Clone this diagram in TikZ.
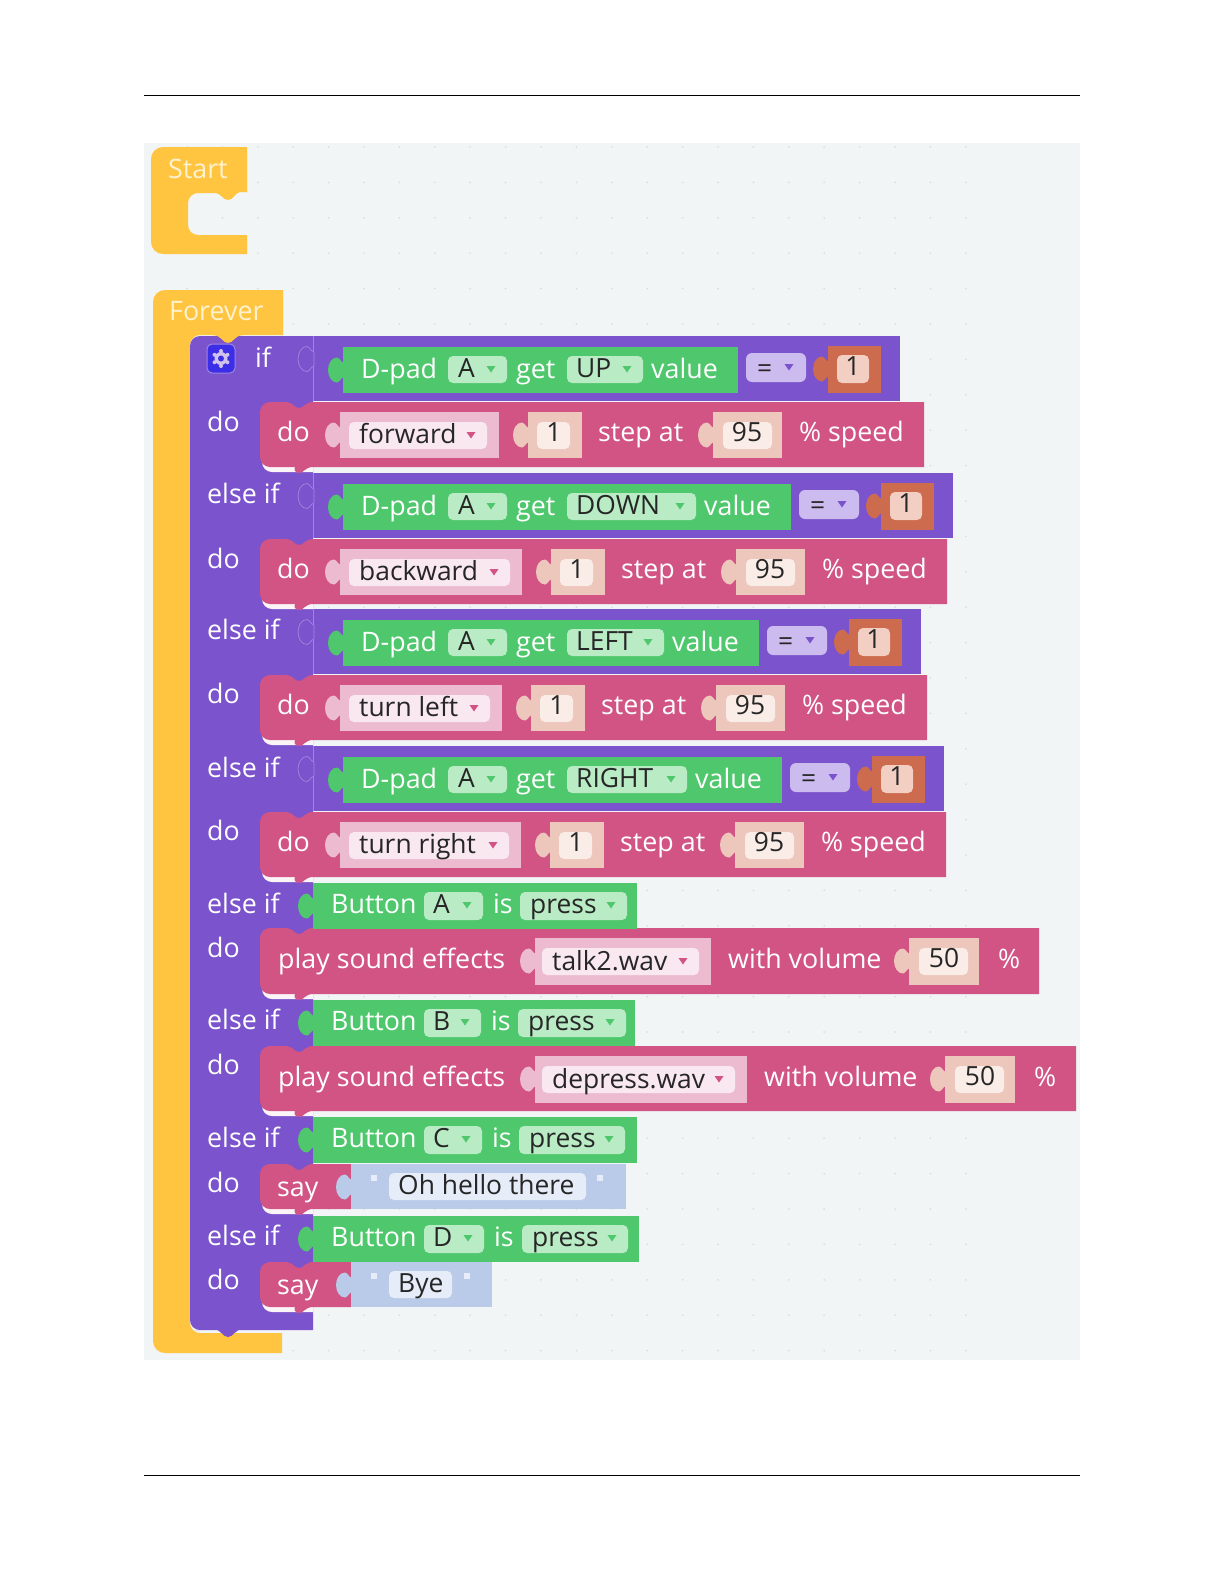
\documentclass[tikz,border=0pt]{standalone}
\usepackage{fontspec}
\setmainfont{Open Sans}
\usepackage{xcolor}
\usepackage{tikz}
\definecolor{canvasbg}{HTML}{F1F5F6}
\definecolor{griddot}{HTML}{D9DFE1}
\definecolor{startcol}{HTML}{FFC440}
\definecolor{startink}{HTML}{FFF2CF}
\definecolor{ifcol}{HTML}{7B53CC}
\definecolor{iflight}{HTML}{9E86DE}
\definecolor{movecol}{HTML}{D15484}
\definecolor{movepale}{HTML}{EDBBD0}
\definecolor{movefield}{HTML}{F9E8EF}
\definecolor{sensecol}{HTML}{4FC76D}
\definecolor{sensefield}{HTML}{B9EBC5}
\definecolor{numcol}{HTML}{EDC6BC}
\definecolor{numfield}{HTML}{FAECE6}
\definecolor{orangecol}{HTML}{CC6B4D}
\definecolor{orangefield}{HTML}{F3CFC3}
\definecolor{opfield}{HTML}{CBBBEE}
\definecolor{saycol}{HTML}{B9CBE8}
\definecolor{sayfield}{HTML}{E6ECF8}
\definecolor{gearcol}{HTML}{3B2EE6}
\begin{document}
\begin{tikzpicture}[
    x=1pt, y=-1pt,
    font=\fontsize{26.4}{30}\selectfont,
    lbl/.style={anchor=west, inner sep=0pt, text=white, text height=25pt, text depth=6pt,
                font=\fontsize{26.8}{30}\selectfont},
    startlbl/.style={lbl, text=startink},
    ink/.style={anchor=west, inner sep=0pt, text=black!85, text height=22pt, text depth=6pt},
    num/.style={ink, anchor=center, text height=19pt},
    tab/.pic={\path[pic actions] (1,-7) .. controls (-2,-7.5) and (-3,-12) .. (-6,-12.5)
      .. controls (-11,-12.5) and (-15,-7) .. (-15,0) .. controls (-15,7) and (-11,12.5) .. (-6,12.5)
      .. controls (-3,12) and (-2,7.5) .. (1,7) -- cycle;},
    tri/.pic={\fill[pic actions] (-4.5,-3) -- (4.5,-3) -- (0,3.5) -- cycle;}
  ]
    \useasboundingbox (0,0) rectangle (1224,1584);
    \fill[white] (0,0) rectangle (1224,1584);
    \draw[black, line width=0.8pt] (144,95) -- (1080,95);
    \draw[black, line width=0.8pt] (144,1475) -- (1080,1475);

    % canvas
    \fill[canvasbg] (144,143) rectangle (1080,1360);
    \foreach \gx in {0,...,22} \foreach \gy in {0,...,34}
      \fill[griddot] (187+35.4*\gx,147+35.4*\gy) circle (1);

    % hat blocks
    \fill[startcol] (247,147) {[rounded corners=12pt] -- (151,147) -- (151,254) -- (200,254)}
      -- (247,254) -- (247,235) {[rounded corners=10pt] -- (188,235) -- (188,193) -- (200,193)} -- (214,193)
      .. controls (222,193) and (222,200) .. (228,200) .. controls (234,200) and (234,192) .. (242,192)
      -- (247,192) -- cycle;
    \node[startlbl] (start) at (168,169) {Start};
    \fill[startcol] (283,290) {[rounded corners=12pt] -- (153,290) -- (153,1353) -- (200,1353)}
      -- (282,1353) -- (282,1333) {[rounded corners=10pt] -- (190,1333) -- (190,335) -- (200,335)} -- (283,335) -- cycle;
    \node[startlbl] (forever) at (169,311) {Forever};

    % the if column
    \fill[ifcol] (313,336) {[rounded corners=10pt] -- (190,336) -- (190,1330) -- (205,1330)} -- (313,1330) -- cycle;
    \fill[ifcol] (212,1329) .. controls (222,1329) and (222,1337) .. (228,1337)
      .. controls (234,1337) and (234,1329) .. (244,1329) -- cycle;
    \fill[startcol] (212,335) .. controls (222,335) and (222,343) .. (228,343)
      .. controls (234,343) and (234,335) .. (244,335) -- cycle;
    \draw[iflight, rounded corners=5pt, line width=1pt, fill=gearcol] (207,344) rectangle (235,373);
    \foreach \a in {30,90,...,330}
      \fill[iflight!50!white] (221,358.5) ++(\a:7.5) circle (2);
    \fill[iflight!50!white] (221,358.5) circle (6.5);
    \fill[gearcol] (221,358.5) circle (3);
    \node[lbl] (ifword) at (255,358) {if};

    \foreach \i/\y/\word in {1/422/do, 2/494/else if, 3/559/do, 4/630/else if, 5/694/do, 6/768/else if,
        7/831/do, 8/904/else if, 9/948/do, 10/1020/else if, 11/1065/do, 12/1138/else if,
        13/1183/do, 14/1236/else if, 15/1280/do}
      \node[lbl] (side\i) at (207,\y) {\word};

    % D-pad conditions
    \foreach \i/\T/\d/\key in {1/336/0/UP, 2/473/53/DOWN, 3/609/21/LEFT, 4/746/44/RIGHT} {
      \fill[ifcol] (313,\T) rectangle (900+\d,\T+65);
      \draw[iflight, line width=0.8pt] (313,\T) -- (313,\T+65);
      \pic[fill=ifcol, draw=iflight, line width=0.7pt] at (313,\T+23) {tab};
      \fill[sensecol] (343,\T+11) rectangle (738+\d,\T+57);
      \pic[fill=sensecol] at (343,\T+34) {tab};
      \node[lbl] (dpad\i) at (361,\T+33) {D-pad};
      \fill[sensefield, rounded corners=5pt] (448,\T+20) rectangle (507,\T+47);
      \node[ink] (pad\i) at (458,\T+33) {A};
      \pic[fill=sensecol] at (491,\T+33) {tri};
      \node[lbl] (get\i) at (516,\T+33) {get};
      \fill[sensefield, rounded corners=5pt] (567,\T+20) rectangle (643+\d,\T+47);
      \node[ink] (key\i) at (576,\T+33) {\key};
      \pic[fill=sensecol] at (627+\d,\T+33) {tri};
      \node[lbl] (value\i) at (651+\d,\T+33) {value};
      \fill[opfield, rounded corners=6pt] (746+\d,\T+17) rectangle (806+\d,\T+46);
      \node[ink] (eq\i) at (757+\d,\T+33) {=};
      \pic[fill=ifcol] at (789+\d,\T+31) {tri};
      \fill[orangecol] (828+\d,\T+10) rectangle (881+\d,\T+57);
      \pic[fill=orangecol] at (828+\d,\T+33) {tab};
      \fill[orangefield, rounded corners=5pt] (837+\d,\T+19) rectangle (869+\d,\T+47);
      \node[num] (one\i) at (853+\d,\T+33) {1};
    }

    % do blocks, with the pale rim under the left end
    \foreach \P/\Q/\r in {402/467/924, 539/604/947, 675/740/927, 812/877/946,
        928/994/1039, 1046/1111/1076, 1164/1209/351, 1262/1307/351} {
      \fill[white!85!movepale] {[rounded corners=10pt] (262,\Q-14) -- (262,\Q+5) -- (300,\Q+5)} -- (313,\Q+5) -- (313,\Q) -- cycle;
      \fill[movecol] {[rounded corners=10pt] (286,\P) -- (260,\P) -- (260,\Q) -- (286,\Q)}
        .. controls (293,\Q) and (294,\Q+6) .. (299,\Q+6) .. controls (304,\Q+6) and (305,\Q) .. (313,\Q)
        -- (\r,\Q) -- (\r,\P) -- (313,\P)
        .. controls (305,\P) and (304,\P+6) .. (299,\P+6) .. controls (294,\P+6) and (293,\P) .. (286,\P) -- cycle;
    }

    % move rows
    \foreach \i/\P/\d/\move in {1/402/0/forward, 2/539/23/backward, 3/675/3/turn left, 4/812/22/turn right} {
      \node[lbl] (doword\i) at (277,\P+30) {do};
      \fill[movepale] (340,\P+10) rectangle (499+\d,\P+56);
      \pic[fill=movepale] at (340,\P+33) {tab};
      \fill[movefield, rounded corners=5pt] (349,\P+20) rectangle (487+\d,\P+47);
      \node[ink] (move\i) at (359,\P+33) {\move};
      \pic[fill=movecol] at (471+\d,\P+33) {tri};
      \fill[numcol] (528+\d,\P+10) rectangle (582+\d,\P+56);
      \pic[fill=numcol] at (528+\d,\P+33) {tab};
      \fill[numfield, rounded corners=5pt] (537+\d,\P+20) rectangle (570+\d,\P+47);
      \node[num] (steps\i) at (554+\d,\P+33) {1};
      \node[lbl] (stepat\i) at (598+\d,\P+30) {step at};
      \fill[numcol] (713+\d,\P+10) rectangle (782+\d,\P+56);
      \pic[fill=numcol] at (713+\d,\P+33) {tab};
      \fill[numfield, rounded corners=5pt] (723+\d,\P+20) rectangle (772+\d,\P+47);
      \node[num] (speed\i) at (747+\d,\P+33) {95};
      \node[lbl] (pct\i) at (799+\d,\P+30) {\% speed};
    }

    % button conditions
    \foreach \i/\T/\b/\kr/\pl/\pr/\r in {1/883/A/483/520/627/637, 2/1000/B/481/518/626/635,
        3/1117/C/482/519/625/637, 4/1216/D/484/522/628/639} {
      \fill[sensecol] (313,\T) rectangle (\r,\T+46);
      \pic[fill=sensecol] at (313,\T+23) {tab};
      \node[lbl] (button\i) at (331,\T+21) {Button};
      \fill[sensefield, rounded corners=5pt] (424,\T+9) rectangle (\kr,\T+37);
      \node[ink] (btn\i) at (433,\T+22) {\b};
      \pic[fill=sensecol] at (\kr-16,\T+22) {tri};
      \node[lbl] (is\i) at (\kr+10,\T+21) {is};
      \fill[sensefield, rounded corners=5pt] (\pl,\T+9) rectangle (\pr,\T+37);
      \node[ink] (press\i) at (\pl+10,\T+22) {press};
      \pic[fill=sensecol] at (\pr-16,\T+22) {tri};
    }

    % sound rows
    \foreach \i/\P/\d/\wav in {1/928/0/talk2.wav, 2/1046/36/depress.wav} {
      \node[lbl] (sound\i) at (278,\P+31) {play sound effects};
      \fill[movepale] (535,\P+10) rectangle (711+\d,\P+57);
      \pic[fill=movepale] at (535,\P+33) {tab};
      \fill[movefield, rounded corners=5pt] (542,\P+20) rectangle (699+\d,\P+47);
      \node[ink] (wav\i) at (552,\P+34) {\wav};
      \pic[fill=movecol] at (683+\d,\P+33) {tri};
      \node[lbl] (volume\i) at (728+\d,\P+31) {with volume};
      \fill[numcol] (909+\d,\P+10) rectangle (979+\d,\P+57);
      \pic[fill=numcol] at (909+\d,\P+33) {tab};
      \fill[numfield, rounded corners=5pt] (919+\d,\P+20) rectangle (968+\d,\P+47);
      \node[num] (vol\i) at (944+\d,\P+33) {50};
      \node[lbl] (volpct\i) at (998+\d,\P+31) {\%};
    }

    % say rows
    \foreach \i/\P/\r/\fr/\qx/\txt in {1/1164/626/586/600/Oh hello there, 2/1262/492/452/467/Bye} {
      \fill[saycol] (351,\P) rectangle (\r,\P+45);
      \pic[fill=saycol] at (351,\P+23) {tab};
      \node[lbl] (say\i) at (277,\P+23) {say};
      \fill[sayfield, rounded corners=5pt] (389,\P+9) rectangle (\fr,\P+36);
      \node[ink] (txt\i) at (398,\P+22) {\txt};
      \fill[sayfield] (371,\P+11) rectangle (377,\P+17);
      \fill[sayfield] (\qx-3,\P+11) rectangle (\qx+3,\P+17);
    }
  \end{tikzpicture}
\end{document}
